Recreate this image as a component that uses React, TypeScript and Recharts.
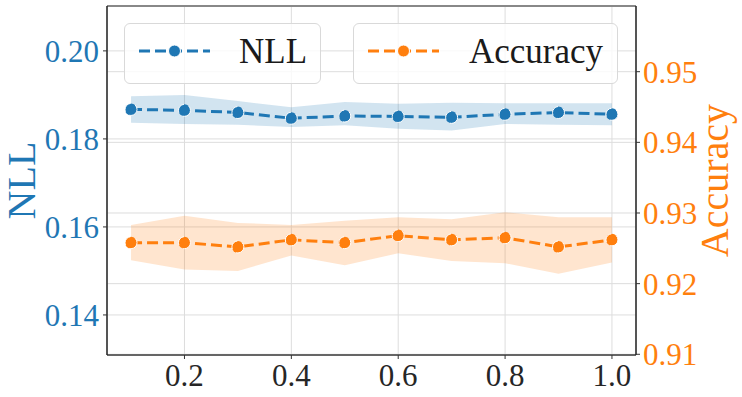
import {
  Area,
  CartesianGrid,
  ComposedChart,
  Line,
  ReferenceLine,
  XAxis,
  YAxis,
} from 'recharts'

const ratios = [0.1, 0.2, 0.3, 0.4, 0.5, 0.6, 0.7, 0.8, 0.9, 1.0]
const nllMean = [0.1867, 0.1865, 0.186, 0.1847, 0.1852, 0.1851, 0.1849, 0.1856, 0.186, 0.1856]
const nllLow = [0.1837, 0.1834, 0.1832, 0.1827, 0.1831, 0.1823, 0.1819, 0.1834, 0.1832, 0.1831]
const nllHigh = [0.1897, 0.19, 0.1886, 0.1872, 0.1884, 0.188, 0.1882, 0.1881, 0.1881, 0.1881]
const accMean = [0.9258, 0.9258, 0.9252, 0.9262, 0.9258, 0.9268, 0.9262, 0.9265, 0.9252, 0.9262]
const accLow = [0.9233, 0.922, 0.9218, 0.924, 0.9226, 0.9243, 0.9232, 0.9229, 0.9214, 0.923]
const accHigh = [0.9283, 0.9296, 0.9286, 0.9283, 0.9289, 0.9294, 0.9291, 0.9301, 0.9294, 0.9294]

const xTicks = [0.2, 0.4, 0.6, 0.8, 1.0]
const nllTicks = [0.14, 0.16, 0.18, 0.2]
const accTicks = [0.91, 0.92, 0.93, 0.94, 0.95]

const BLUE = '#1f77b4'
const ORANGE = '#ff7f0e'
const FONT = 'Liberation Serif, DejaVu Serif, serif'

const NLL_DOMAIN: [number, number] = [0.1309, 0.2102]
const ACC_DOMAIN: [number, number] = [0.9099, 0.9593]

const data = ratios.map((r, i) => ({
  ratio: r,
  nll: nllMean[i],
  nllBand: [nllLow[i], nllHigh[i]],
  acc: accMean[i],
  accBand: [accLow[i], accHigh[i]],
}))

function AxisTitle(props: any) {
  const { viewBox, value, fill, offsetX } = props
  const cx = viewBox.x + offsetX
  const cy = viewBox.y + viewBox.height / 2
  return (
    <text
      x={cx}
      y={cy}
      transform={`rotate(-90, ${cx}, ${cy})`}
      textAnchor="middle"
      fill={fill}
      style={{ fontSize: 40, fontFamily: FONT }}
    >
      {value}
    </text>
  )
}

// matplotlib-style legend frame: line + marker swatch, then the label
function LegendBox({ left, width, label, color, textX }: any) {
  return (
    <div
      style={{
        position: 'absolute',
        left,
        top: 23,
        width,
        height: 61,
        border: '1px solid #d9d9d9',
        borderRadius: 6,
        background: 'rgba(255,255,255,0.8)',
        boxSizing: 'border-box',
      }}
    >
      <svg width={width} height={61} style={{ position: 'absolute', left: -1, top: -1 }}>
        <line x1={15} x2={86} y1={28} y2={28} stroke={color} strokeWidth={3} strokeDasharray="11 5" />
        <circle cx={50.5} cy={28} r={6} fill={color} stroke="#fff" strokeWidth={1} />
        <text x={textX} y={40} fill="#1a1a1a" style={{ fontSize: 35, fontFamily: FONT }}>
          {label}
        </text>
      </svg>
    </div>
  )
}

export default function App() {
  return (
    <div style={{ position: 'relative', width: 742, height: 397, fontFamily: FONT }}>
      <style>{'body { margin: 0; }'}</style>
      <ComposedChart
        width={742}
        height={397}
        data={data}
        margin={{ top: 6, right: 0, left: 0, bottom: 0 }}
        style={{ fontFamily: FONT }}
      >
        <CartesianGrid yAxisId="left" stroke="#dddddd" strokeWidth={1} />
        <CartesianGrid yAxisId="right" stroke="#dddddd" strokeWidth={1} vertical={false} />
        <XAxis
          dataKey="ratio"
          type="number"
          domain={[0.055, 1.045]}
          allowDataOverflow
          ticks={xTicks}
          tickFormatter={(v: number) => v.toFixed(1)}
          height={42}
          tickSize={4}
          tickMargin={5}
          axisLine={{ stroke: '#666', strokeWidth: 2 }}
          tickLine={{ stroke: '#333' }}
          tick={{ fill: '#262626', fontSize: 31, fontFamily: FONT }}
        />
        <YAxis
          yAxisId="left"
          orientation="left"
          type="number"
          domain={NLL_DOMAIN}
          allowDataOverflow
          ticks={nllTicks}
          tickFormatter={(v: number) => v.toFixed(2)}
          width={107}
          tickSize={4}
          tickMargin={4}
          axisLine={{ stroke: '#222', strokeWidth: 1.5 }}
          tickLine={{ stroke: '#333' }}
          tick={{ fill: BLUE, fontSize: 31, fontFamily: FONT }}
          label={<AxisTitle value="NLL" fill={BLUE} offsetX={35} />}
        />
        <YAxis
          yAxisId="right"
          orientation="right"
          type="number"
          domain={ACC_DOMAIN}
          allowDataOverflow
          ticks={accTicks}
          tickFormatter={(v: number) => v.toFixed(2)}
          width={106}
          tickSize={4}
          tickMargin={3}
          axisLine={{ stroke: '#222', strokeWidth: 1.5 }}
          tickLine={{ stroke: '#333' }}
          tick={{ fill: ORANGE, fontSize: 31, fontFamily: FONT }}
          label={<AxisTitle value="Accuracy" fill={ORANGE} offsetX={92} />}
        />
        <ReferenceLine yAxisId="left" y={NLL_DOMAIN[1]} stroke="#888" strokeWidth={2} />
        <Area
          yAxisId="left"
          type="linear"
          dataKey="nllBand"
          stroke="none"
          fill={BLUE}
          fillOpacity={0.2}
          isAnimationActive={false}
        />
        <Area
          yAxisId="right"
          type="linear"
          dataKey="accBand"
          stroke="none"
          fill={ORANGE}
          fillOpacity={0.2}
          isAnimationActive={false}
        />
        <Line
          yAxisId="left"
          type="linear"
          dataKey="nll"
          stroke={BLUE}
          strokeWidth={3}
          strokeDasharray="11 5"
          dot={{ r: 6, fill: BLUE, stroke: '#fff', strokeWidth: 1 }}
          isAnimationActive={false}
        />
        <Line
          yAxisId="right"
          type="linear"
          dataKey="acc"
          stroke={ORANGE}
          strokeWidth={3}
          strokeDasharray="11 5"
          dot={{ r: 6, fill: ORANGE, stroke: '#fff', strokeWidth: 1 }}
          isAnimationActive={false}
        />
      </ComposedChart>
      <LegendBox left={124} width={197} label="NLL" color={BLUE} textX={115} />
      <LegendBox left={353} width={265} label="Accuracy" color={ORANGE} textX={116} />
    </div>
  )
}
